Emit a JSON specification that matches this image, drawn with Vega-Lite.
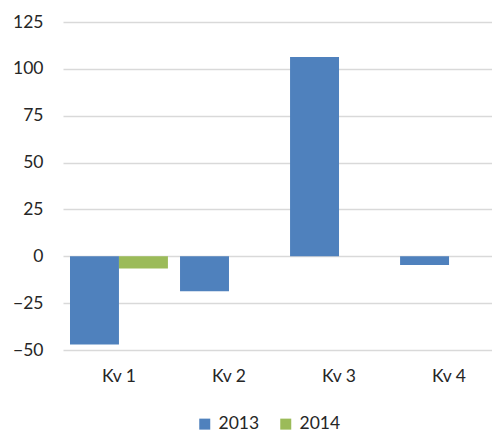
{
  "$schema": "https://vega.github.io/schema/vega-lite/v6.json",
  "autosize": "none",
  "width": 428,
  "height": 328,
  "padding": {"left": 63, "top": 22, "right": 1, "bottom": 84},
  "background": "white",
  "data": {
    "values": [
      {"quarter": "Kv 1", "year": "2013", "value": -47},
      {"quarter": "Kv 1", "year": "2014", "value": -6.5},
      {"quarter": "Kv 2", "year": "2013", "value": -18.6},
      {"quarter": "Kv 3", "year": "2013", "value": 106.3},
      {"quarter": "Kv 4", "year": "2013", "value": -4.7}
    ]
  },
  "mark": {"type": "bar"},
  "encoding": {
    "x": {
      "field": "quarter",
      "type": "nominal",
      "scale": {"range": [0, 442], "paddingInner": 0.11, "paddingOuter": 0.0636},
      "axis": {"title": null, "labelAngle": 0, "grid": false, "domain": false, "ticks": false, "labelPadding": 17, "labelFont": "Lato", "labelFontSize": 17.5, "labelColor": "#262626"}
    },
    "xOffset": {"field": "year", "type": "nominal", "scale": {"paddingInner": 0, "paddingOuter": 0}},
    "y": {
      "field": "value",
      "type": "quantitative",
      "scale": {"domain": [-50, 125], "nice": false, "zero": false},
      "axis": {"title": null, "values": [-50, -25, 0, 25, 50, 75, 100, 125], "domain": false, "ticks": false, "labelPadding": 20, "grid": true, "gridColor": "#d9d9d9", "gridWidth": 1.3, "labelFont": "Lato", "labelFontSize": 17.5, "labelColor": "#262626"}
    },
    "color": {
      "field": "year",
      "type": "nominal",
      "scale": {"domain": ["2013", "2014"], "range": ["#4f81bd", "#9bbb59"]},
      "legend": {"title": null, "orient": "none", "legendX": 133, "legendY": 393, "direction": "horizontal", "symbolType": "square", "symbolSize": 121, "symbolStrokeWidth": 0, "labelFont": "Lato", "labelFontSize": 17.5, "labelColor": "#262626", "labelOffset": 5, "columnPadding": 17}
    }
  },
  "config": {"view": {"stroke": null}}
}
